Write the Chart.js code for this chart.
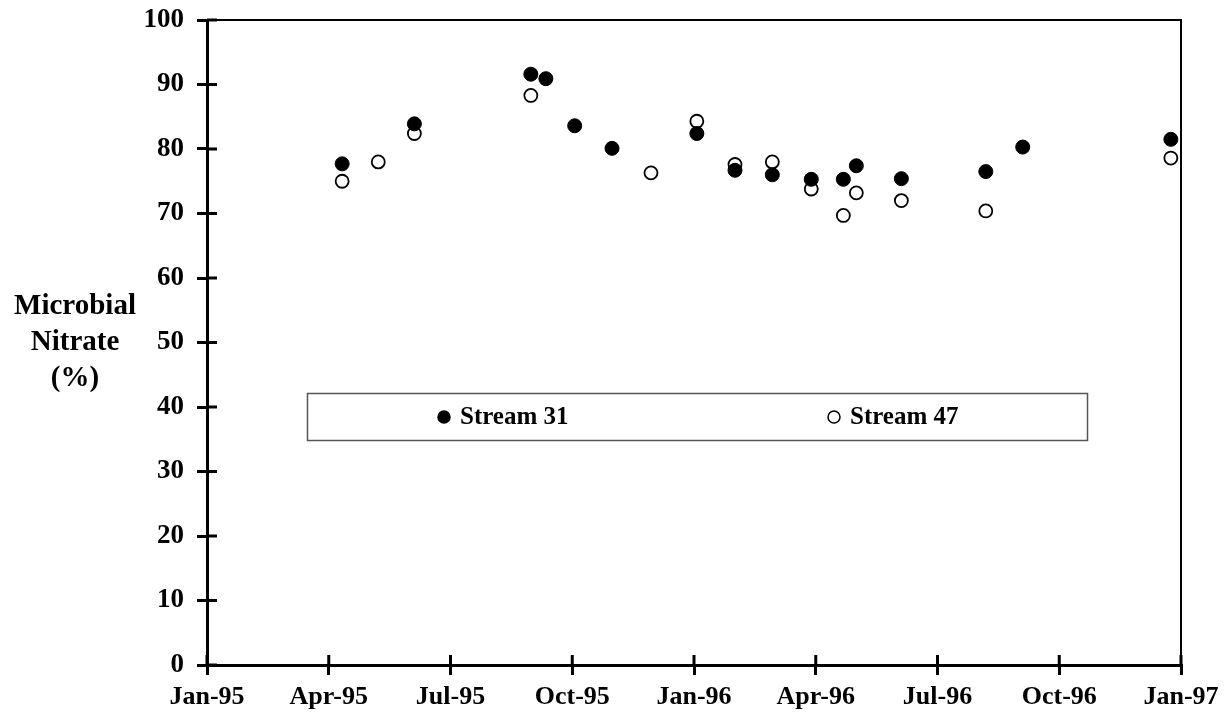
<!DOCTYPE html>
<html>
<head>
<meta charset="utf-8">
<script src="https://cdn.jsdelivr.net/npm/chart.js@4.4.1/dist/chart.umd.min.js"></script>
<style>
    html, body { margin: 0; padding: 0; background: #fff; }
    #wrap { width: 1232px; height: 719px; }
</style>
</head>
<body>
<div id="wrap"><canvas id="nitrateChart"></canvas></div>
<script>
// x positions are months since Jan-95
var tickLabels = ["Jan-95", "Apr-95", "Jul-95", "Oct-95", "Jan-96", "Apr-96", "Jul-96", "Oct-96", "Jan-97"];

var stream31Months = [3.33, 5.11, 7.98, 8.35, 9.06, 9.98, 12.07, 13.01, 13.93, 14.89, 15.68, 16.0, 17.11, 19.19, 20.1, 23.75];
var stream31Values = [77.7, 83.9, 91.6, 90.9, 83.6, 80.1, 82.4, 76.7, 76.0, 75.3, 75.3, 77.4, 75.4, 76.5, 80.3, 81.5];

var stream47Months = [3.33, 4.22, 5.11, 7.98, 10.94, 12.07, 13.01, 13.93, 14.89, 15.68, 16.0, 17.11, 19.19, 23.75];
var stream47Values = [75.0, 78.0, 82.4, 88.3, 76.3, 84.3, 77.6, 78.0, 73.8, 69.7, 73.2, 72.0, 70.4, 78.6];

var FONT = "'Liberation Serif', 'Times New Roman', serif";

function toPoints(xs, ys) {
    return xs.map(function (x, i) { return { x: x, y: ys[i] }; });
}

// top/right frame, ticks crossing the axes, y title, boxed legend
var decorations = {
    id: "decorations",
    afterDraw: function (chart) {
        var ctx = chart.ctx;
        var area = chart.chartArea;
        var xs = chart.scales.x, ys = chart.scales.y;
        ctx.save();
        ctx.strokeStyle = "#000";

        ctx.lineWidth = 2;
        ctx.beginPath();
        ctx.moveTo(area.left, area.top);
        ctx.lineTo(area.right, area.top);
        ctx.lineTo(area.right, area.bottom);
        ctx.stroke();

        // inner halves of the tick marks
        ctx.lineWidth = 3;
        ctx.beginPath();
        xs.ticks.forEach(function (t) {
            var px = xs.getPixelForValue(t.value);
            ctx.moveTo(px, area.bottom);
            ctx.lineTo(px, area.bottom - 10);
        });
        ys.ticks.forEach(function (t) {
            var py = ys.getPixelForValue(t.value);
            ctx.moveTo(area.left, py);
            ctx.lineTo(area.left + 10, py);
        });
        ctx.stroke();

        // y axis title, horizontal, three lines
        ctx.fillStyle = "#000";
        ctx.font = "bold 29px " + FONT;
        ctx.textAlign = "center";
        ctx.textBaseline = "middle";
        ["Microbial", "Nitrate", "(%)"].forEach(function (line, i) {
            ctx.fillText(line, 75, 307 + i * 36);
        });

        // legend box
        ctx.lineWidth = 1.5;
        ctx.strokeStyle = "#555";
        ctx.strokeRect(307.5, 393.5, 780, 47);
        var items = [
            { x: 444, ds: chart.data.datasets[0] },
            { x: 834, ds: chart.data.datasets[1] }
        ];
        ctx.textAlign = "left";
        ctx.font = "bold 25px " + FONT;
        items.forEach(function (it) {
            ctx.beginPath();
            ctx.arc(it.x, 417, 6, 0, Math.PI * 2);
            ctx.fillStyle = it.ds.pointBackgroundColor;
            ctx.fill();
            ctx.lineWidth = 1.5;
            ctx.strokeStyle = "#000";
            ctx.stroke();
            ctx.fillStyle = "#000";
            ctx.fillText(it.ds.label, it.x + 16, 418);
        });
        ctx.restore();
    }
};

new Chart(document.getElementById("nitrateChart").getContext("2d"), {
    type: "scatter",
    data: {
        datasets: [
            {
                label: "Stream 31",
                data: toPoints(stream31Months, stream31Values),
                pointRadius: 7,
                pointBackgroundColor: "#000",
                pointBorderColor: "#000",
                pointBorderWidth: 1
            },
            {
                label: "Stream 47",
                data: toPoints(stream47Months, stream47Values),
                pointRadius: 6.5,
                pointBackgroundColor: "#fff",
                pointBorderColor: "#000",
                pointBorderWidth: 1.8
            }
        ]
    },
    options: {
        responsive: true,
        maintainAspectRatio: false,
        animation: false,
        clip: false,
        layout: { padding: { top: 20, right: 51, left: 0, bottom: 0 } },
        plugins: {
            legend: { display: false },
            tooltip: { enabled: false }
        },
        scales: {
            x: {
                type: "linear",
                min: 0,
                max: 24,
                afterFit: function (scale) {
                    scale.height = 54;
                    scale.paddingLeft = 0;
                    scale.paddingRight = 0;
                },
                grid: {
                    drawOnChartArea: false,
                    color: "#000",
                    lineWidth: 3,
                    tickLength: 10
                },
                border: { color: "#000", width: 3 },
                ticks: {
                    stepSize: 3,
                    maxRotation: 0,
                    autoSkip: false,
                    padding: 7,
                    color: "#000",
                    font: { family: FONT, size: 26, weight: "bold" },
                    callback: function (v) { return tickLabels[v / 3]; }
                }
            },
            y: {
                min: 0,
                max: 100,
                afterFit: function (scale) {
                    scale.width = 207;
                    scale.paddingTop = 0;
                    scale.paddingBottom = 0;
                },
                grid: {
                    drawOnChartArea: false,
                    color: "#000",
                    lineWidth: 3,
                    tickLength: 10
                },
                border: { color: "#000", width: 3 },
                ticks: {
                    stepSize: 10,
                    padding: 13,
                    color: "#000",
                    font: { family: FONT, size: 27, weight: "bold" }
                }
            }
        }
    },
    plugins: [decorations]
});
</script>
</body>
</html>
